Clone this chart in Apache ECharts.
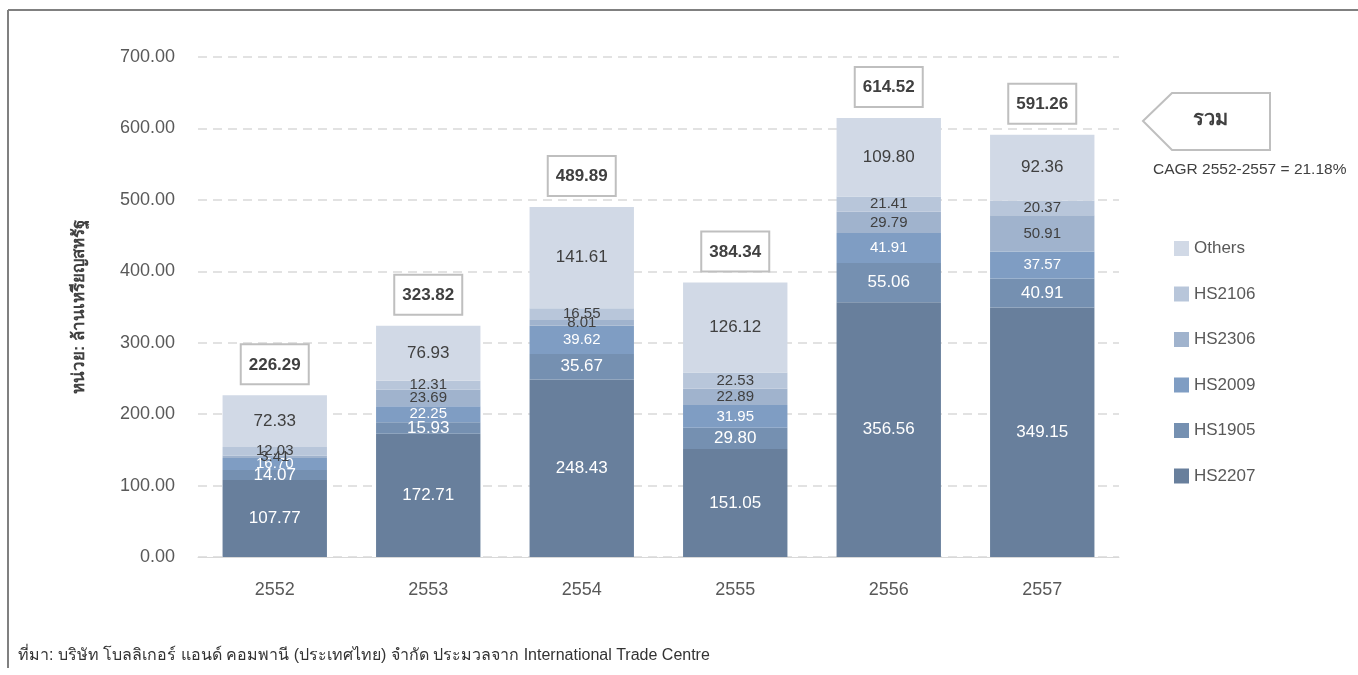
<!DOCTYPE html>
<html>
<head>
<meta charset="utf-8">
<script src="https://cdn.jsdelivr.net/npm/echarts@6/dist/echarts.min.js"></script>
<style>
  html, body { margin: 0; padding: 0; background: #fff; }
  #main { width: 1358px; height: 675px; }
</style>
</head>
<body>
<div id="main"></div>
<script>
var years = ["2552", "2553", "2554", "2555", "2556", "2557"];
var hs2207 = [107.77, 172.71, 248.43, 151.05, 356.56, 349.15];
var hs1905 = [14.07, 15.93, 35.67, 29.80, 55.06, 40.91];
var hs2009 = [16.70, 22.25, 39.62, 31.95, 41.91, 37.57];
var hs2306 = [3.41, 23.69, 8.01, 22.89, 29.79, 50.91];
var hs2106 = [12.03, 12.31, 16.55, 22.53, 21.41, 20.37];
var others = [72.33, 76.93, 141.61, 126.12, 109.80, 92.36];
var totals = [226.29, 323.82, 489.89, 384.34, 614.52, 591.26];

var font = "'Liberation Sans', Arial, 'Noto Sans', sans-serif";

function layer(name, data, color, labelColor, size) {
  return {
    name: name,
    type: "bar",
    stack: "all",
    barWidth: "68%",
    data: data,
    itemStyle: { color: color },
    label: {
      show: true,
      position: "inside",
      color: labelColor,
      fontSize: size,
      fontFamily: font,
      formatter: function (p) { return p.value.toFixed(2); }
    }
  };
}

var myChart = echarts.init(document.getElementById("main"));
var option = {
  backgroundColor: "#fff",
  textStyle: { fontFamily: font },
  grid: { left: 198, right: 239, top: 57, bottom: 118 },
  legend: {
    orient: "vertical",
    left: 1169,
    top: 235,
    itemWidth: 15,
    itemHeight: 15,
    itemGap: 28.5,
    icon: "rect",
    textStyle: { color: "#595959", fontSize: 17, fontFamily: font },
    data: ["Others", "HS2106", "HS2306", "HS2009", "HS1905", "HS2207"]
  },
  xAxis: {
    type: "category",
    data: years,
    axisLine: { lineStyle: { color: "#d9d9d9" } },
    axisTick: { show: false },
    axisLabel: { color: "#595959", fontSize: 18, margin: 24 }
  },
  yAxis: {
    type: "value",
    min: 0,
    max: 700,
    interval: 100,
    name: "หน่วย: ล้านเหรียญสหรัฐ",
    nameLocation: "middle",
    nameGap: 110,
    nameTextStyle: { color: "#404040", fontSize: 17, fontWeight: "bold" },
    axisLabel: {
      color: "#595959",
      fontSize: 18,
      margin: 23,
      formatter: function (v) { return v.toFixed(2); }
    },
    splitLine: { lineStyle: { color: "#d9d9d9", width: 1.5, type: [9, 6] } }
  },
  series: [
    layer("HS2207", hs2207, "#687f9c", "#ffffff", 17),
    layer("HS1905", hs1905, "#7590b1", "#ffffff", 17),
    layer("HS2009", hs2009, "#7f9dc3", "#ffffff", 15),
    layer("HS2306", hs2306, "#a0b3cd", "#404040", 15),
    layer("HS2106", hs2106, "#b8c6da", "#404040", 15),
    layer("Others", others, "#d1d9e6", "#404040", 17),
    {
      name: "total",
      type: "bar",
      stack: "all",
      barWidth: "68%",
      data: totals.map(function () { return 0; }),
      itemStyle: { color: "transparent" },
      label: {
        show: true,
        position: "top",
        distance: 12,
        formatter: function (p) { return totals[p.dataIndex].toFixed(2); },
        color: "#404040",
        fontSize: 17,
        fontWeight: "bold",
        borderColor: "#bfbfbf",
        borderWidth: 2,
        backgroundColor: "#fff",
        padding: [11, 7, 10, 7]
      }
    }
  ],
  graphic: [
    // frame
    { type: "line", shape: { x1: 8, y1: 10, x2: 1358, y2: 10 }, style: { stroke: "#808080", lineWidth: 2 } },
    { type: "line", shape: { x1: 8, y1: 10, x2: 8, y2: 668 }, style: { stroke: "#808080", lineWidth: 2 } },
    // "total" arrow
    {
      type: "polygon",
      shape: { points: [[1143, 121], [1172, 93], [1270, 93], [1270, 150], [1172, 150]] },
      style: { fill: "#fff", stroke: "#bfbfbf", lineWidth: 2 }
    },
    {
      type: "text", left: 1193, top: 109,
      style: { text: "รวม", fill: "#404040", fontSize: 20, fontWeight: "bold", fontFamily: font }
    },
    {
      type: "text", left: 1153, top: 162,
      style: { text: "CAGR 2552-2557 = 21.18%", fill: "#404040", fontSize: 15.5, fontFamily: font }
    },
    {
      type: "text", left: 18, top: 648,
      style: { text: "ที่มา: บริษัท โบลลิเกอร์ แอนด์ คอมพานี (ประเทศไทย) จำกัด ประมวลจาก International Trade Centre", fill: "#333", fontSize: 16, fontFamily: font }
    }
  ]
};
option && myChart.setOption(option);
</script>
</body>
</html>
